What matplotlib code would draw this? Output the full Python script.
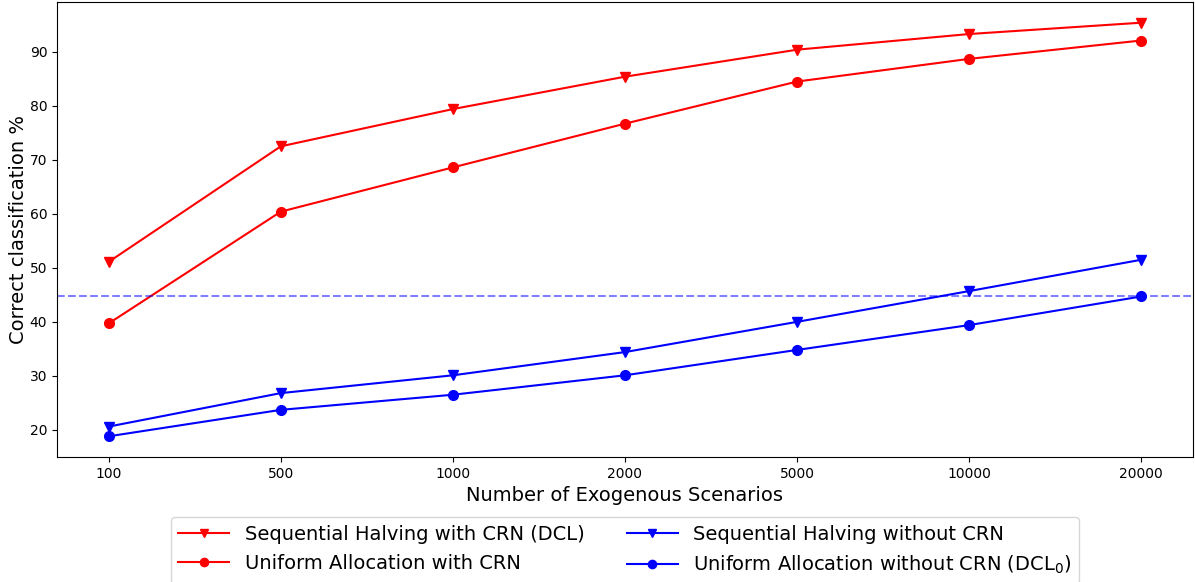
import numpy as np
import matplotlib
matplotlib.use('Agg')
import matplotlib.pyplot as plt

scenarios = ['100', '500', '1000', '2000', '5000', '10000', '20000']
sh_crn = [51.1, 72.5, 79.4, 85.4, 90.4, 93.3, 95.4]      # Sequential Halving with CRN (DCL)
ua_crn = [39.7, 60.4, 68.6, 76.7, 84.5, 88.7, 92.1]      # Uniform Allocation with CRN
sh_nocrn = [20.6, 26.8, 30.1, 34.4, 40.0, 45.7, 51.5]    # Sequential Halving without CRN
ua_nocrn = [18.8, 23.7, 26.5, 30.1, 34.8, 39.4, 44.7]    # Uniform Allocation without CRN (DCL_0)

fig, ax = plt.subplots(figsize=(11.95, 5.82), dpi=100)
fig.subplots_adjust(left=57/1195, right=1193/1195, top=1-2/582, bottom=1-457/582)

xs = np.arange(len(scenarios))
ax.plot(xs, sh_crn, 'r-v', markersize=7, label='Sequential Halving with CRN (DCL)')
ax.plot(xs, ua_crn, 'r-o', markersize=7, label='Uniform Allocation with CRN')
ax.plot(xs, sh_nocrn, 'b-v', markersize=7, label='Sequential Halving without CRN')
ax.plot(xs, ua_nocrn, 'b-o', markersize=7, label=r'Uniform Allocation without CRN (DCL$_0$)')
ax.axhline(ua_nocrn[-1], color='blue', linestyle='--', alpha=0.5)

ax.set_xticks(xs)
ax.set_xticklabels(scenarios)
ax.set_xlabel('Number of Exogenous Scenarios', fontsize=14)
ax.set_ylabel('Correct classification %', fontsize=14, labelpad=1)
ax.legend(loc='upper center', bbox_to_anchor=(0.5, -0.132), borderaxespad=0,
          ncol=2, fontsize=14, handlelength=2.6, columnspacing=2.2, markerscale=0.85)

plt.savefig('out.png', dpi=100)
